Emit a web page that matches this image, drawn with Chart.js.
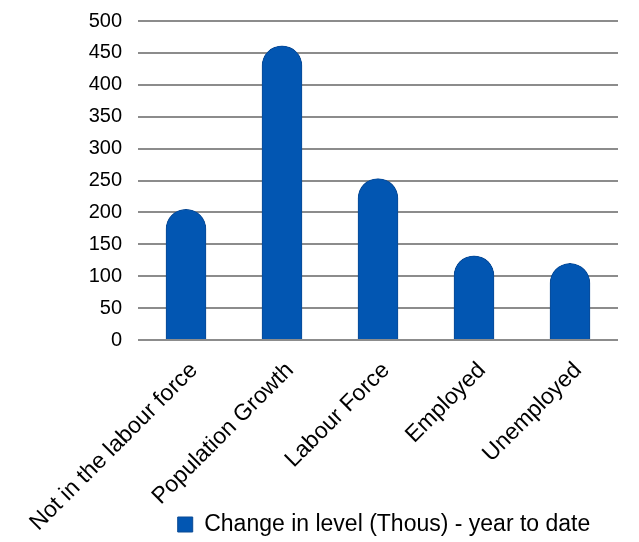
<!DOCTYPE html>
<html>
<head>
<meta charset="utf-8">
<script src="https://cdn.jsdelivr.net/npm/chart.js@4"></script>
<style>
  html, body { margin: 0; padding: 0; background: #fff; }
  #box { width: 639px; height: 542px; }
</style>
</head>
<body>
<div id="box"><canvas id="grafico"></canvas></div>
<script>
const categorias = ["Not in the labour force", "Population Growth", "Labour Force", "Employed", "Unemployed"];
const valores = [205, 461, 253, 132, 120];
const serie = "Change in level (Thous) - year to date";
const yMin = 0, yMax = 500, yPasso = 50;

Chart.defaults.font.family = "'Liberation Sans', Arial, sans-serif";
Chart.defaults.font.size = 20;
Chart.defaults.color = "#000";

// legenda centrada na area do grafico, e rotulos do eixo x sem corte
const ajustes = {
    id: "ajustes",
    afterLayout(chart) {
        const lg = chart.legend;
        if (lg) {
            const dx = 75;
            const dy = 527 - (lg.top + lg.bottom) / 2;
            lg.left += dx; lg.right += dx;
            lg.top += dy; lg.bottom += dy;
        }
        chart.scales.x.bottom = chart.height;
    }
};

const ctx = document.getElementById("grafico").getContext("2d");
const grafico = new Chart(ctx, {
    type: "bar",
    data: {
        labels: categorias,
        datasets: [{
            label: serie,
            data: valores,
            backgroundColor: "#0256b2",
            borderColor: "#0b4a94",
            borderWidth: 1,
            borderSkipped: "bottom",
            borderRadius: { topLeft: 20, topRight: 20 },
            barThickness: 40
        }]
    },
    options: {
        responsive: true,
        maintainAspectRatio: false,
        animation: false,
        layout: { padding: { top: 21, right: 21, left: 0, bottom: 0 } },
        scales: {
            x: {
                grid: { display: false },
                border: { display: false },
                ticks: { minRotation: 45, maxRotation: 45, padding: 9, labelOffset: 8, font: { size: 23 } },
                afterFit: (axis) => { axis.height = 164; axis.paddingLeft = 0; axis.paddingRight = 0; }
            },
            y: {
                min: yMin,
                max: yMax,
                border: { display: false },
                grid: { color: "#8c8c8c", lineWidth: 2, drawTicks: false },
                ticks: { stepSize: yPasso, padding: 16 },
                afterFit: (axis) => { axis.paddingTop = 0; axis.width = 138; }
            }
        },
        plugins: {
            legend: {
                position: "bottom",
                labels: { boxWidth: 15, boxHeight: 15, padding: 5, font: { size: 23 } }
            },
            tooltip: { enabled: false }
        }
    },
    plugins: [ajustes]
});
</script>
</body>
</html>
